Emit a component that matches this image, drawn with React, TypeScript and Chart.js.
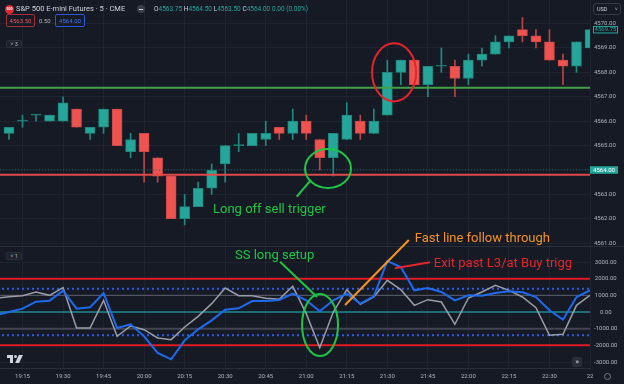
import React, { useEffect, useRef } from 'react';
import { Chart, registerables } from 'chart.js';

Chart.register(...registerables);

// ---------------- Data ----------------
const candleTimes = ['19:10','19:15','19:20','19:25','19:30','19:35','19:40','19:45','19:50','19:55',
  '20:00','20:05','20:10','20:15','20:20','20:25','20:30','20:35','20:40','20:45','20:50','20:55',
  '21:00','21:05','21:10','21:15','21:20','21:25','21:30','21:35','21:40','21:45','21:50','21:55',
  '22:00','22:05','22:10','22:15','22:20','22:25','22:30','22:35','22:40','22:45'];

const opens = [4565.50,4566.00,4566.25,4566.00,4566.00,4566.50,4565.50,4565.75,4566.50,4564.75,
  4565.50,4564.50,4563.75,4562.00,4562.50,4563.25,4564.25,4565.00,4565.00,4565.25,4565.75,4565.50,
  4566.00,4565.25,4564.50,4565.25,4566.00,4565.50,4566.25,4568.00,4568.50,4567.50,4568.25,4568.25,
  4567.75,4568.50,4568.75,4569.25,4569.75,4569.50,4569.25,4568.50,4568.25,4569.00];
const highs = [4565.75,4566.25,4566.25,4566.25,4567.00,4566.50,4565.75,4566.50,4566.50,4565.50,
  4565.50,4564.50,4563.75,4563.00,4563.50,4564.25,4565.00,4565.50,4565.50,4566.00,4565.75,4566.50,
  4566.25,4565.25,4565.50,4566.75,4566.25,4566.50,4568.50,4568.50,4568.50,4568.25,4569.00,4568.50,
  4568.75,4569.00,4569.50,4569.50,4570.25,4569.75,4569.75,4568.75,4569.25,4569.75];
const lows = [4565.25,4565.75,4566.00,4566.00,4566.00,4565.75,4565.25,4565.50,4565.00,4564.50,
  4563.50,4563.50,4562.00,4561.75,4562.50,4563.00,4563.50,4564.75,4565.00,4565.00,4565.25,4565.25,
  4565.25,4564.00,4563.75,4565.25,4565.25,4565.50,4566.25,4567.50,4567.50,4567.00,4568.00,4567.00,
  4567.50,4568.25,4568.75,4569.00,4569.25,4569.00,4568.50,4567.50,4568.00,4569.00];
const closes = [4565.75,4566.00,4566.25,4566.25,4566.75,4565.75,4565.75,4566.50,4565.00,4565.25,
  4564.75,4563.75,4562.00,4562.50,4563.25,4564.00,4565.00,4565.00,4565.50,4565.50,4565.50,4566.00,
  4565.50,4564.50,4565.50,4566.25,4565.50,4566.00,4568.00,4568.50,4567.50,4568.25,4568.25,4567.75,
  4568.50,4568.75,4569.25,4569.50,4569.50,4569.25,4568.50,4568.25,4569.25,4569.75];

// oscillator pane (first value belongs to the 19:05 bar, just left of the view)
const oscTimes = ['19:05', ...candleTimes];
const fastLine = [-210,0,200,620,680,1280,200,280,1140,-960,-740,-1460,-2460,-2840,-1700,-1040,-500,
  140,220,660,660,720,1100,700,40,700,1100,500,940,3060,2700,1300,1440,1200,700,1000,980,1140,1240,
  1180,900,100,-460,900,1300];
const slowLine = [835,910,980,1200,1000,1460,-960,-960,700,-1460,-840,-1060,-1560,-1660,-900,-260,500,
  1440,980,980,820,760,1540,-100,-2140,0,1340,460,900,1900,1340,400,740,600,-740,840,1200,1600,1300,
  900,260,-1400,-1340,400,1000];

const priceTicks = [4561,4562,4563,4564,4565,4566,4567,4568,4569,4570];
const oscTicks = [-3000,-2000,-1000,0,1000,2000,3000];
const xTickTimes = ['19:15','19:30','19:45','20:00','20:15','20:30','20:45','21:00','21:15','21:30',
  '21:45','22:00','22:15','22:30','22:45'];
const xTickLabels = ['19:15','19:30','19:45','20:00','20:15','20:30','20:45','21:00','21:15','21:30',
  '21:45','22:00','22:15','22:30','22'];

const levelGreen = 4567.37;
const levelRed = 4563.81;
const markPrice = 4564.00;
const oscRedLevels = [2000, -2000];
const oscDotLevels = [1400, -1400];

// ---------------- Styles ----------------
const BG = '#161a25';
const GRID = '#1f2330';
const TXT = '#b2b5be';
const UP = '#26a69a';
const DOWN = '#ef5350';
const UP_WICK = '#1f8a80';
const DOWN_WICK = '#b84646';
const UP_BORDER = '#1f877c';
const DOWN_BORDER = '#cc4848';
const FONT = 'Roboto, sans-serif';
const A_GREEN = '#1fc646';
const A_ORANGE = '#f7931e';
const A_RED = '#e5252c';

const toMin = (t: string) => { const [h, m] = t.split(':').map(Number); return h * 60 + m; };
const T0 = toMin(candleTimes[0]);
const BAR = 5;

// annotation drawings, in bar-index / value units
const ellipses = [
  { axis: 'yp', k: 28.5, v: 4568.0, rk: 1.63, rv: 1.19, color: A_RED },
  { axis: 'yp', k: 23.61, v: 4564.06, rk: 1.70, rv: 0.80, color: A_GREEN },
  { axis: 'yo', k: 23.02, v: -780, rk: 1.33, rv: 1860, color: A_GREEN },
];
const strokes = [
  { axis: 'yp', k1: 21.29, v1: 4562.91, k2: 22.35, v2: 4563.59, color: A_GREEN },
  { axis: 'yo', k1: 20.06, v1: 3018, k2: 22.8, v2: 900, color: A_GREEN },
  { axis: 'yo', k1: 29.59, v1: 4320, k2: 24.87, v2: 420, color: A_ORANGE },
  { axis: 'yo', k1: 31.16, v1: 2980, k2: 28.55, v2: 2620, color: A_RED },
];
const notes = [
  { axis: 'yp', k: 15.1, v: 4562.36, text: 'Long off sell trigger', color: A_GREEN },
  { axis: 'yo', k: 16.73, v: 3360, text: 'SS long setup', color: A_GREEN },
  { axis: 'yo', k: 30.03, v: 4380, text: 'Fast line follow through', color: A_ORANGE },
  { axis: 'yo', k: 31.44, v: 2920, text: 'Exit past L3/at Buy trigg', color: A_RED },
];

const overlayPlugin = {
  id: 'overlay',
  afterDraw(chart: any) {
    const { ctx, scales } = chart;
    const xs = scales.x;
    const px = (k: number) => xs.getPixelForValue(T0 + BAR * k);
    ctx.save();
    // pane separator
    const sy = Math.round(scales.yp.bottom) + 0.5;
    ctx.strokeStyle = '#2a2e39';
    ctx.lineWidth = 1;
    ctx.beginPath(); ctx.moveTo(0, sy); ctx.lineTo(chart.width, sy); ctx.stroke();

    ctx.lineWidth = 2;
    for (const e of ellipses) {
      const ys = scales[e.axis];
      const cx = px(e.k), cy = ys.getPixelForValue(e.v);
      const rx = Math.abs(px(e.k + e.rk) - cx);
      const ry = Math.abs(ys.getPixelForValue(e.v + e.rv) - cy);
      ctx.strokeStyle = e.color;
      ctx.beginPath(); ctx.ellipse(cx, cy, rx, ry, 0, 0, Math.PI * 2); ctx.stroke();
    }
    for (const s of strokes) {
      const ys = scales[s.axis];
      ctx.strokeStyle = s.color;
      ctx.beginPath();
      ctx.moveTo(px(s.k1), ys.getPixelForValue(s.v1));
      ctx.lineTo(px(s.k2), ys.getPixelForValue(s.v2));
      ctx.stroke();
    }
    ctx.font = '13px ' + FONT;
    ctx.textAlign = 'left';
    ctx.textBaseline = 'middle';
    for (const n of notes) {
      const ys = scales[n.axis];
      ctx.fillStyle = n.color;
      ctx.fillText(n.text, px(n.k), ys.getPixelForValue(n.v));
    }

    // price-axis tags
    const yp = scales.yp;
    const tag = (val: number, left: number, w: number, fill: string, stroke: string | null, color: string) => {
      const y = yp.getPixelForValue(val);
      const h = 7.5;
      ctx.fillStyle = fill;
      ctx.fillRect(left, y - h / 2, w, h);
      if (stroke) {
        ctx.strokeStyle = stroke; ctx.lineWidth = 1;
        ctx.strokeRect(left + 0.5, y - h / 2 + 0.5, w - 1, h - 1);
      }
      ctx.fillStyle = color;
      ctx.font = '6px ' + FONT;
      ctx.textAlign = 'center';
      ctx.textBaseline = 'middle';
      ctx.fillText(val.toFixed(2), left + w / 2, y + 0.3);
    };
    tag(markPrice, yp.left, 28, UP, null, '#ffffff');
    tag(closes[closes.length - 1], yp.left + 3, 25, BG, UP, UP);
    ctx.restore();
  },
};

const hLine = (value: number, axis: string, color: string, width: number, dash: number[] = []) => ({
  type: 'line',
  yAxisID: axis,
  data: [{ x: T0 - 10, y: value }, { x: toMin(candleTimes[candleTimes.length - 1]) + 10, y: value }],
  borderColor: color,
  borderWidth: width,
  borderDash: dash,
  pointRadius: 0,
  order: 1,
});

export default function App() {
  const ref = useRef<HTMLCanvasElement>(null);

  useEffect(() => {
    const isUp = (i: number) => closes[i] > opens[i];
    const isFlat = (i: number) => closes[i] === opens[i];
    const tickFont = { size: 6, family: FONT };

    const chart = new Chart(ref.current as HTMLCanvasElement, {
      type: 'bar',
      data: {
        datasets: [
          {
            type: 'line', yAxisID: 'yo', order: 0,
            data: oscTimes.map((t, i) => ({ x: toMin(t), y: fastLine[i] })),
            borderColor: '#1f6bf0', borderWidth: 2, pointRadius: 0, tension: 0,
          },
          {
            type: 'line', yAxisID: 'yo', order: 0,
            data: oscTimes.map((t, i) => ({ x: toMin(t), y: slowLine[i] })),
            borderColor: '#9a9da6', borderWidth: 1.5, pointRadius: 0, tension: 0,
          },
          hLine(levelGreen, 'yp', '#43a047', 2),
          hLine(levelRed, 'yp', '#de4a4a', 2),
          hLine(markPrice, 'yp', '#23645e', 1, [1, 2]),
          hLine(oscRedLevels[0], 'yo', '#e01b22', 2),
          hLine(oscRedLevels[1], 'yo', '#e01b22', 2),
          hLine(oscDotLevels[0], 'yo', '#2f5fe6', 2, [2, 3]),
          hLine(oscDotLevels[1], 'yo', '#2f5fe6', 2, [2, 3]),
          hLine(1000, 'yo', '#5d606b', 1),
          hLine(-1000, 'yo', '#434651', 2),
          hLine(0, 'yo', '#1f8a8f', 1.5),
          {
            type: 'bar', yAxisID: 'yp', order: 2, grouped: false,
            data: candleTimes.map((t, i) => ({ x: toMin(t), y: [opens[i], closes[i]] })),
            backgroundColor: candleTimes.map((_, i) => isFlat(i) ? UP_WICK : isUp(i) ? UP : DOWN),
            borderColor: candleTimes.map((_, i) => isFlat(i) ? UP_WICK : isUp(i) ? UP_BORDER : DOWN_BORDER),
            borderWidth: 1, borderSkipped: false, barThickness: 10, minBarLength: 1,
          },
          {
            type: 'bar', yAxisID: 'yp', order: 3, grouped: false,
            data: candleTimes.map((t, i) => ({ x: toMin(t), y: [lows[i], highs[i]] })),
            backgroundColor: candleTimes.map((_, i) => isFlat(i) || isUp(i) ? UP_WICK : DOWN_WICK),
            borderWidth: 0, barThickness: 1,
          },
        ] as any,
      },
      options: {
        responsive: false,
        maintainAspectRatio: false,
        animation: false,
        events: [],
        layout: { padding: 0 },
        plugins: { legend: { display: false }, tooltip: { enabled: false } },
        scales: {
          x: {
            type: 'linear',
            offset: false,
            min: T0 - 3.33,
            max: toMin(candleTimes[candleTimes.length - 1]),
            grid: { color: GRID, drawTicks: false, offset: false },
            border: { color: '#2a2e39' },
            ticks: {
              color: TXT, font: tickFont, padding: 4.5, maxRotation: 0, autoSkip: false,
              callback: (_v: any, i: number) => xTickLabels[i],
            },
            afterBuildTicks: (s: any) => { s.ticks = xTickTimes.map((t) => ({ value: toMin(t) })); },
            afterFit: (s: any) => { s.height = 16; s.paddingLeft = 0; s.paddingRight = 0; },
          },
          yp: {
            type: 'linear', position: 'right', stack: 'pane', stackWeight: 246,
            min: 4560.885, max: 4570.967, beginAtZero: false,
            grid: { color: GRID, drawTicks: false },
            border: { display: false },
            ticks: {
              color: TXT, font: tickFont, padding: 4, crossAlign: 'center',
              callback: (v: any) => Number(v).toFixed(2),
            },
            afterBuildTicks: (s: any) => { s.ticks = priceTicks.map((v) => ({ value: v })); },
            afterFit: (s: any) => { s.width = 34; s.paddingTop = 0; s.paddingBottom = 0; },
          },
          yo: {
            type: 'linear', position: 'right', stack: 'pane', stackWeight: 122,
            min: -3360, max: 3960, beginAtZero: false,
            grid: { color: GRID, drawTicks: false },
            border: { display: false },
            ticks: {
              color: TXT, font: tickFont, padding: 4, crossAlign: 'center',
              callback: (v: any) => Number(v).toFixed(2),
            },
            afterBuildTicks: (s: any) => { s.ticks = oscTicks.map((v) => ({ value: v })); },
            afterFit: (s: any) => { s.width = 34; s.paddingTop = 0; s.paddingBottom = 0; },
          },
        } as any,
      },
      plugins: [overlayPlugin],
    } as any);
    return () => chart.destroy();
  }, []);

  const box = (extra: any) => ({ position: 'absolute' as const, boxSizing: 'border-box' as const, ...extra });

  return (
    <div style={{ position: 'fixed', left: 0, top: 0, width: 624, height: 384, background: BG, overflow: 'hidden', fontFamily: FONT }}>
      <canvas ref={ref} width={624} height={384} style={{ position: 'absolute', left: 0, top: 0, width: 624, height: 384 }} />

      {/* legend header */}
      <div style={box({ left: 5, top: 4.5, width: 9, height: 9, borderRadius: '50%', background: '#e0292f', color: '#fff', fontSize: 3.5, fontWeight: 700, lineHeight: '9px', textAlign: 'center' })}>500</div>
      <div style={box({ left: 16, top: 4, fontSize: 7.5, lineHeight: '10px', color: '#d1d4dc', whiteSpace: 'nowrap' })}>S&amp;P 500 E-mini Futures · 5 · CME</div>
      <div style={box({ left: 137, top: 5, width: 8, height: 8, borderRadius: '50%', background: '#3a3e49' })}>
        <div style={box({ left: 2, top: 3.5, width: 4, height: 1, background: '#d1d4dc' })} />
      </div>
      <div style={box({ left: 154, top: 4, fontSize: 6.5, lineHeight: '10px', color: '#d1d4dc', whiteSpace: 'nowrap' })}>
        O<span style={{ color: UP }}>4563.75</span> H<span style={{ color: UP }}>4564.50</span> L<span style={{ color: UP }}>4563.50</span> C<span style={{ color: UP }}>4564.00</span> <span style={{ color: UP }}>0.00 (0.00%)</span>
      </div>
      <div style={box({ left: 6, top: 14, width: 29, height: 13, border: '1px solid #a3303a', borderRadius: 2, color: '#f05a5a', fontSize: 6, lineHeight: '11px', textAlign: 'center' })}>4563.50</div>
      <div style={box({ left: 39, top: 14, height: 13, color: TXT, fontSize: 6, lineHeight: '13px' })}>0.50</div>
      <div style={box({ left: 55, top: 14, width: 30, height: 13, border: '1px solid #2b57d9', borderRadius: 2, color: '#3d77ff', fontSize: 6, lineHeight: '11px', textAlign: 'center' })}>4564.00</div>
      <div style={box({ left: 6, top: 40, width: 16, height: 8, border: '1px solid #2a2e39', background: '#1e222d', borderRadius: 2, color: TXT, fontSize: 5.5, lineHeight: '6px', textAlign: 'center' })}>˅ 3</div>

      {/* currency selector */}
      <div style={box({ left: 593, top: 3, width: 28, height: 12, border: '1px solid #363a45', borderRadius: 3, color: '#d1d4dc', fontSize: 5.5, lineHeight: '10px', paddingLeft: 3 })}>USD<span style={{ position: 'absolute', right: 2, color: TXT }}>˅</span></div>

      {/* lower pane controls */}
      <div style={box({ left: 6, top: 252, width: 16, height: 8, border: '1px solid #2a2e39', background: '#1e222d', borderRadius: 2, color: TXT, fontSize: 5.5, lineHeight: '6px', textAlign: 'center' })}>˅ 1</div>
      <div style={box({ left: 7, top: 355, width: 6, height: 3, background: '#d1d4dc' })} />
      <div style={box({ left: 10, top: 355, width: 3, height: 8, background: '#d1d4dc' })} />
      <div style={box({ left: 14, top: 355, width: 3, height: 3, borderRadius: '50%', background: '#d1d4dc' })} />
      <div style={box({ left: 17, top: 355, width: 3.5, height: 8, background: '#d1d4dc', transform: 'skewX(-25deg)' })} />
      <div style={box({ left: 572, top: 357, width: 10, height: 10, background: '#2a2e39', borderRadius: 2, color: '#d1d4dc', fontSize: 8, lineHeight: '9px', textAlign: 'center' })}>»</div>
      <div style={box({ left: 604, top: 373, width: 7, height: 7, border: '1.5px solid #787b86', borderRadius: '50%' })} />
    </div>
  );
}
